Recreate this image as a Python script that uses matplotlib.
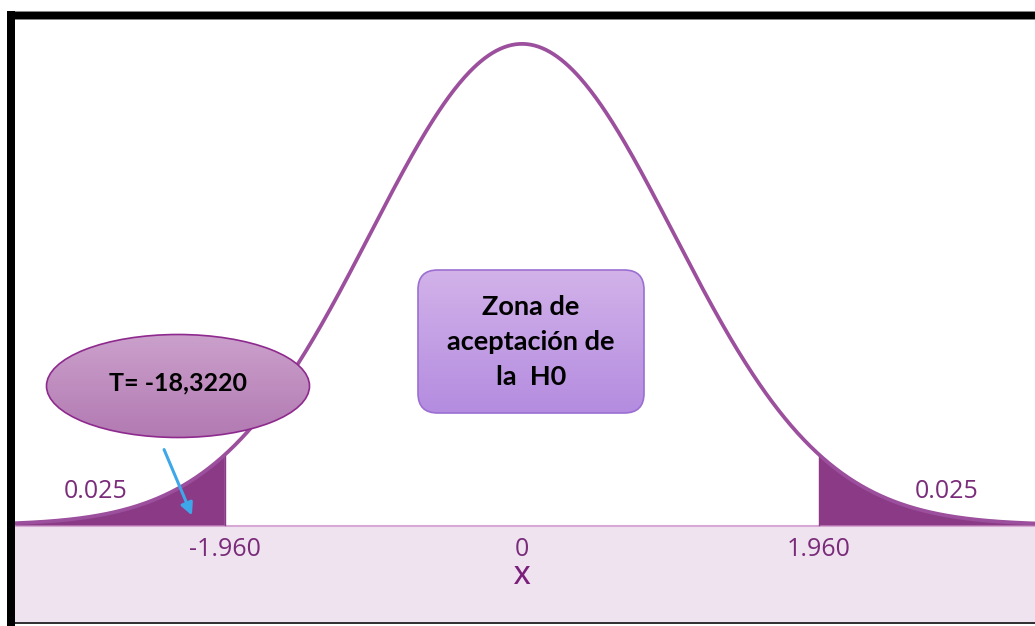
import matplotlib
matplotlib.use("Agg")
import matplotlib.pyplot as plt
import numpy as np
from matplotlib.colors import LinearSegmentedColormap
from matplotlib.patches import Ellipse, FancyBboxPatch, Rectangle, FancyArrowPatch

# ---------------------------------------------------------------------------
# Datos del grafico
# ---------------------------------------------------------------------------
mu = 0.0
sigma = 1.0
z_crit = 1.960
alpha_tail = 0.025
t_stat_label = "T= -18,3220"
tick_values = [-z_crit, 0.0, z_crit]
tick_labels = ["-1.960", "0", "1.960"]
box_lines = ["Zona de", "aceptación de", "la  H0"]

W, H = 1035, 626
X0, SX = 522.0, 151.5      # pixel de x=0, pixeles por unidad
Y0, SY = 525.0, 1206.0     # pixel de y=0, pixeles por unidad


def px(x, y):
    """pixel -> coordenadas de datos"""
    return (x - X0) / SX, (Y0 - y) / SY


fig = plt.figure(figsize=(W / 100, H / 100), dpi=100)
fig.patch.set_facecolor("white")
ax = fig.add_axes([0, 0, 1, 1])
ax.set_xlim(px(0, 0)[0], px(W, 0)[0])
ax.set_ylim(px(0, H)[1], px(0, 0)[1])
ax.axis("off")

# banda inferior
x_left, _ = px(15, 0)
x_right, _ = px(W, 0)
_, y_band_top = px(0, 526)
_, y_band_bot = px(0, 622)
ax.add_patch(Rectangle((x_left, y_band_bot), x_right - x_left, y_band_top - y_band_bot,
                       facecolor="#f0e3f0", edgecolor="none", zorder=1))
ax.plot([x_left, x_right], [y_band_top, y_band_top], color="#d7a8d4", lw=1.5, zorder=2)

# curva normal
x = np.linspace(x_left, x_right, 800)
pdf = np.exp(-0.5 * ((x - mu) / sigma) ** 2) / (sigma * np.sqrt(2 * np.pi))
ax.plot(x, pdf, color="#9b4f9d", lw=2.7, zorder=4, solid_capstyle="round")

left = x <= -z_crit
right = x >= z_crit
ax.fill_between(x[left], 0, pdf[left], color="#8b3a86", lw=0, zorder=3)
ax.fill_between(x[right], 0, pdf[right], color="#8b3a86", lw=0, zorder=3)
ax.plot([-z_crit, -z_crit], [0, np.interp(-z_crit, x, pdf)], color="#8b3a86", lw=1, zorder=3)
ax.plot([z_crit, z_crit], [0, np.interp(z_crit, x, pdf)], color="#8b3a86", lw=1, zorder=3)

# etiquetas de eje
tick_y = px(0, 549)[1]
for v, lab in zip(tick_values, tick_labels):
    ax.text(v, tick_y, lab, ha="center", va="center", fontsize=18,
            family="Open Sans", color="#7a2c7a", zorder=5)
ax.text(mu, px(0, 578)[1], "X", ha="center", va="center", fontsize=19,
        family="Open Sans", fontweight="semibold", color="#7a1f7a", zorder=5)

# areas de cola
ax.text(px(96, 0)[0], px(0, 491)[1], f"{alpha_tail:.3f}", ha="center", va="center",
        fontsize=18, family="Open Sans", color="#7a2c7a", zorder=5)
ax.text(px(947, 0)[0], px(0, 491)[1], f"{alpha_tail:.3f}", ha="center", va="center",
        fontsize=18, family="Open Sans", color="#7a2c7a", zorder=5)


def gradient_fill(patch, top, bottom, zorder):
    ax.add_patch(patch)
    bb = patch.get_extents().transformed(ax.transData.inverted())
    grad = np.linspace(0, 1, 256).reshape(-1, 1)
    cmap = LinearSegmentedColormap.from_list("g", [top, bottom])
    im = ax.imshow(grad, cmap=cmap, aspect="auto", origin="upper",
                   extent=[bb.x0, bb.x1, bb.y0, bb.y1], zorder=zorder)
    im.set_clip_path(patch)


# elipse con el estadistico T
ecx, ecy = px(178, 386)
gradient_fill(Ellipse((ecx, ecy), 263 / SX, 103 / SY, facecolor="none", edgecolor="none"),
              "#cba0cb", "#b27ab2", 6)
ax.add_patch(Ellipse((ecx, ecy), 263 / SX, 103 / SY, facecolor="none",
                     edgecolor="#8e2a8e", lw=1.2, zorder=7))
ax.text(ecx, px(0, 383)[1], t_stat_label, ha="center", va="center", fontsize=18,
        family="Lato", fontweight="bold", color="black", zorder=8)

# flecha
ax.add_patch(FancyArrowPatch(px(163, 447), px(193, 518), arrowstyle="-|>",
                             mutation_scale=18, color="#3ea7ea", lw=2.2, zorder=8))

# cuadro "zona de aceptacion"
bx0, by1 = px(418, 270)
bx1, by0 = px(644, 413)
box_style = "round,pad=0,rounding_size=0.13"
gradient_fill(FancyBboxPatch((bx0, by0), bx1 - bx0, by1 - by0, boxstyle=box_style,
                             mutation_aspect=(SX / SY), facecolor="none", edgecolor="none"),
              "#d2b2e9", "#b48ce0", 6)
ax.add_patch(FancyBboxPatch((bx0, by0), bx1 - bx0, by1 - by0, boxstyle=box_style,
                            mutation_aspect=(SX / SY), facecolor="none",
                            edgecolor="#9b6fd2", lw=1.2, zorder=7))
for i, line in enumerate(box_lines):
    ax.text(px(531, 0)[0], px(0, 307 + 35 * i)[1], line, ha="center", va="center",
            fontsize=19.5, family="Lato", fontweight="bold", color="black", zorder=8)

# marco negro
fig.patches.append(Rectangle((7 / W, 1 - 19 / H), 1 - 7 / W, 8 / H, transform=fig.transFigure,
                             facecolor="black", edgecolor="#888888", lw=0.6, zorder=10))
fig.patches.append(Rectangle((7 / W, 0), 8 / W, 1 - 11 / H, transform=fig.transFigure,
                             facecolor="black", edgecolor="none", zorder=10))
fig.patches.append(Rectangle((15 / W, 2 / H), 1 - 15 / W, 2 / H, transform=fig.transFigure,
                             facecolor="#333333", edgecolor="none", zorder=10))

fig.savefig("out.png", dpi=100)
